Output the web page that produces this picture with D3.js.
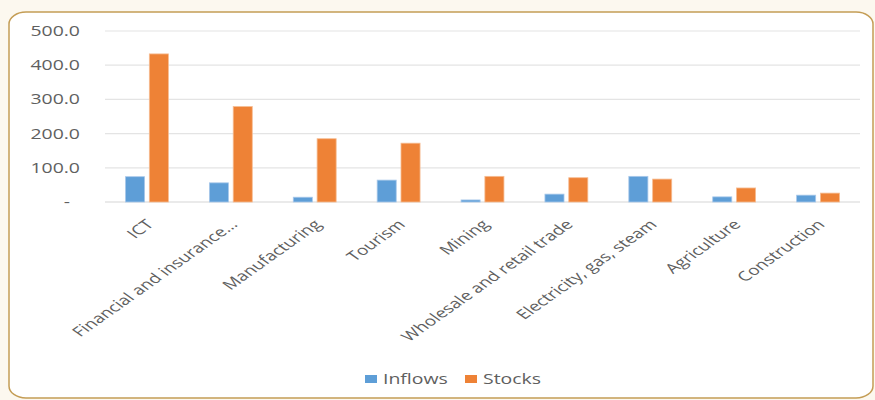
<!DOCTYPE html>
<html>
<head>
<meta charset="utf-8">
<script src="https://cdn.jsdelivr.net/npm/d3@7"></script>
<style>
  body { margin: 0; background: #fcf8ef; }
  svg { display: block; }
  text { font-family: "Open Sans", sans-serif; fill: #5f5f5f; }
</style>
</head>
<body>
<div id="chart"></div>
<script>
// data
var sectors = ["ICT", "Financial and insurance...", "Manufacturing", "Tourism", "Mining",
  "Wholesale and retail trade", "Electricity, gas, steam", "Agriculture", "Construction"];
var series = ["Inflows", "Stocks"];
var inflows = [74, 56, 14, 64, 6, 23, 75, 15, 20];
var stocks = [433, 279, 185, 172, 75, 71, 67, 41, 26];
var yTicks = [0, 100, 200, 300, 400, 500];

var width = 875, height = 400;
var colors = {Inflows: "#5e9ed7", Stocks: "#ee8236"};
var strokes = {Inflows: "#a8c8ea", Stocks: "#f6bc92"};
var sx = 1.41; // the picture is stretched sideways, text too

var rows = sectors.map(function(s, i) {
  return {sector: s, Inflows: inflows[i], Stocks: stocks[i]};
});

var svg = d3.select("#chart").append("svg")
  .attr("width", width)
  .attr("height", height);

// white panel with gold rounded border
svg.append("rect")
  .attr("x", 9).attr("y", 12)
  .attr("width", 864).attr("height", 386)
  .attr("rx", 17).attr("ry", 12)
  .attr("fill", "#fff")
  .attr("stroke", "#c49d55")
  .attr("stroke-width", 1.5);

var x0 = d3.scaleBand()
  .domain(sectors)
  .range([105, 860]);

var x1 = d3.scaleBand()
  .domain(series)
  .range([20.5, x0.bandwidth() - 20.5])
  .paddingInner(0.2);

var y = d3.scaleLinear()
  .domain([0, 500])
  .range([202, 31]);

// gridlines
svg.append("g").selectAll("line")
  .data(yTicks)
  .enter().append("line")
  .attr("x1", 105).attr("x2", 860)
  .attr("y1", function(d) { return y(d); })
  .attr("y2", function(d) { return y(d); })
  .attr("stroke", function(d) { return d === 0 ? "#d6d6d6" : "#e4e4e4"; })
  .attr("stroke-width", 1.2);

// y tick labels
svg.append("g").selectAll("text")
  .data(yTicks)
  .enter().append("text")
  .attr("transform", function(d) {
    return "translate(" + (d === 0 ? 70 : 80) + "," + y(d) + ") scale(" + sx + ",1)";
  })
  .attr("text-anchor", "end")
  .attr("dy", "0.36em")
  .style("font-size", "13.8px")
  .text(function(d) { return d === 0 ? "-" : d3.format(".1f")(d); });

// bars
var groups = svg.append("g").selectAll("g")
  .data(rows)
  .enter().append("g")
  .attr("transform", function(d) { return "translate(" + x0(d.sector) + ",0)"; });

groups.selectAll("rect")
  .data(function(d) { return series.map(function(k) { return {key: k, value: d[k]}; }); })
  .enter().append("rect")
  .attr("x", function(d) { return x1(d.key); })
  .attr("width", x1.bandwidth())
  .attr("y", function(d) { return y(d.value); })
  .attr("height", function(d) { return y(0) - y(d.value); })
  .attr("fill", function(d) { return colors[d.key]; })
  .attr("stroke", function(d) { return strokes[d.key]; })
  .attr("stroke-width", 0.8);

// category labels, rotated
svg.append("g").selectAll("text")
  .data(sectors)
  .enter().append("text")
  .attr("transform", function(d) {
    var cx = x0(d) + x0.bandwidth() / 2;
    return "translate(" + (cx + 3) + ",222) scale(" + sx + ",1) rotate(-45)";
  })
  .attr("text-anchor", "end")
  .attr("dy", "0.35em")
  .style("font-size", "13.5px")
  .text(function(d) { return d; });

// legend
var legendX = {Inflows: 365, Stocks: 465};
var legend = svg.append("g").selectAll("g")
  .data(series)
  .enter().append("g")
  .attr("transform", function(d) { return "translate(" + legendX[d] + ",375)"; });

legend.append("rect")
  .attr("width", 12).attr("height", 8)
  .attr("fill", function(d) { return colors[d]; });

legend.append("text")
  .attr("transform", "translate(18,9) scale(" + sx + ",1)")
  .style("font-size", "13.8px")
  .text(function(d) { return d; });
</script>
</body>
</html>
